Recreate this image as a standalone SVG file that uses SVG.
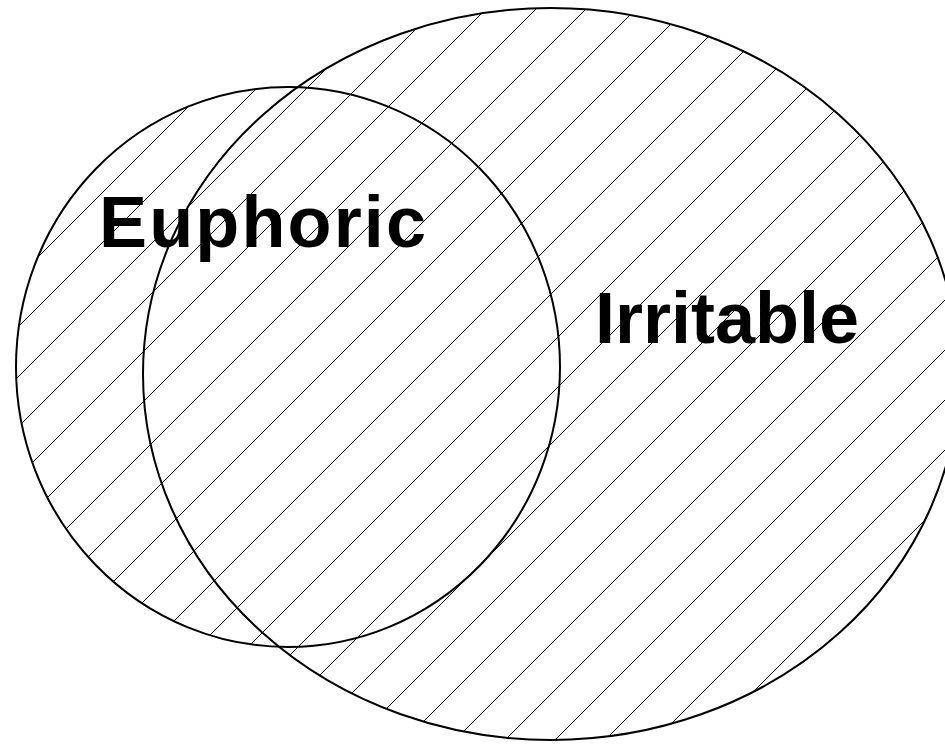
<svg xmlns="http://www.w3.org/2000/svg" width="945" height="744" viewBox="0 0 945 744">
  <style>
    .outline { fill: none; stroke: #000; stroke-width: 2; }
    .hatch { fill: none; stroke: #000; stroke-width: 1; }
    .label { font-family: "Liberation Sans", Arial, sans-serif; font-weight: bold; font-size: 72px; fill: #000; }
  </style>
  <defs>
    <clipPath id="union">
      <ellipse cx="551" cy="374" rx="408" ry="366"/>
      <ellipse cx="288" cy="367" rx="272" ry="280"/>
    </clipPath>
  </defs>
  <rect width="945" height="744" fill="#fff"/>
  <g id="hatching" clip-path="url(#union)">
    <path class="hatch" d="M95,0 L-649,744 M145,0 L-599,744 M195,0 L-549,744 M245,0 L-499,744 M295,0 L-449,744 M345,0 L-399,744 M395,0 L-349,744 M445,0 L-299,744 M495,0 L-249,744 M545,0 L-199,744 M595,0 L-149,744 M645,0 L-99,744 M695,0 L-49,744 M745,0 L1,744 M795,0 L51,744 M845,0 L101,744 M895,0 L151,744 M945,0 L201,744 M995,0 L251,744 M1045,0 L301,744 M1095,0 L351,744 M1145,0 L401,744 M1195,0 L451,744 M1245,0 L501,744 M1295,0 L551,744 M1345,0 L601,744 M1395,0 L651,744 M1445,0 L701,744 M1495,0 L751,744 M1545,0 L801,744 M1595,0 L851,744 M1645,0 L901,744 M1695,0 L951,744"/>
  </g>
  <g id="irritable">
    <ellipse class="outline" cx="551" cy="374" rx="408" ry="366"/>
  </g>
  <g id="euphoric">
    <ellipse class="outline" cx="288" cy="367" rx="272" ry="280"/>
  </g>
  <g id="labels">
    <text class="label" x="99" y="247" textLength="327" lengthAdjust="spacing">Euphoric</text>
    <text class="label" x="595" y="343">Irritable</text>
  </g>
  <g id="connectors"/>
</svg>
